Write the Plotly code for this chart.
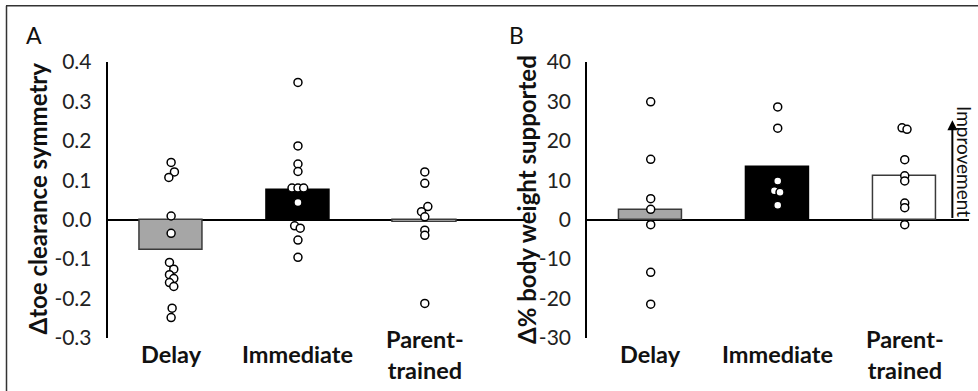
import numpy as np
import plotly.graph_objects as go

W, H = 978, 391

categories = ["Delay", "Immediate", "Parent-<br>trained"]

# Panel A: change in toe clearance symmetry
a_bar_means = [-0.077, 0.075, -0.006]
a_delay = [0.145, 0.121, 0.107, 0.009, -0.035, -0.109, -0.126, -0.140, -0.150, -0.160, -0.170, -0.225, -0.249]
a_delay_jit = [0.0, 0.026, -0.018, 0.0, 0.0, -0.013, 0.021, -0.013, 0.021, -0.013, 0.021, 0.008, 0.0]
a_immediate = [0.348, 0.187, 0.141, 0.122, 0.080, 0.080, 0.080, 0.043, -0.016, -0.022, -0.052, -0.096]
a_immediate_jit = [0.0, 0.0, 0.0, 0.0, -0.047, 0.0, 0.045, 0.0, -0.026, 0.018, 0.0, 0.0]
a_parent = [0.121, 0.092, 0.033, 0.020, 0.007, -0.027, -0.040, -0.213]
a_parent_jit = [0.0, 0.0, 0.024, -0.026, 0.0, 0.0, 0.0, 0.0]
a_tickvals = [-0.3, -0.2, -0.1, 0.0, 0.1, 0.2, 0.3, 0.4]
a_ticktext = ["-0.3", "-0.2", "-0.1", "0.0", "0.1", "0.2", "0.3", "0.4"]

# Panel B: change in % body weight supported
b_bar_means = [2.4, 13.4, 11.0]
b_delay = [29.9, 15.3, 5.3, 2.6, -1.3, -13.4, -21.5]
b_delay_jit = [0, 0, 0, 0, 0, 0, 0]
b_immediate = [28.6, 23.2, 9.8, 7.3, 6.9, 3.6]
b_immediate_jit = [0.0, 0.0, 0.0, -0.026, 0.018, 0.0]
b_parent = [23.3, 22.9, 15.2, 11.1, 9.8, 4.2, 3.0, -1.3]
b_parent_jit = [-0.021, 0.018, 0, 0, 0, 0, 0, 0]
b_tickvals = [-30, -20, -10, 0, 10, 20, 30, 40]
b_ticktext = ["-30", "-20", "-10", "0", "10", "20", "30", "40"]
improvement_arrow_top = 25.2

bar_fill = ["#a6a6a6", "#000000", "#ffffff"]
bar_line = ["#3a3a3a", "#000000", "#3a3a3a"]

FONT = "Lato"
fig = go.Figure()
idx = np.arange(len(categories))

def add_panel(xa, ya, means, groups):
    fig.add_trace(go.Bar(x=idx, y=means, width=0.5, xaxis=xa, yaxis=ya,
                         marker=dict(color=bar_fill, line=dict(color=bar_line, width=1.5)),
                         showlegend=False, hoverinfo="skip"))
    for i, (vals, jit) in enumerate(groups):
        xs = [i + j for j in jit]
        fig.add_trace(go.Scatter(x=xs, y=vals, mode="markers", xaxis=xa, yaxis=ya,
                                 marker=dict(symbol="circle", size=8, color="white",
                                             line=dict(color="black", width=1.5)),
                                 showlegend=False, hoverinfo="skip"))

add_panel("x", "y", a_bar_means, [(a_delay, a_delay_jit), (a_immediate, a_immediate_jit), (a_parent, a_parent_jit)])
add_panel("x2", "y2", b_bar_means, [(b_delay, b_delay_jit), (b_immediate, b_immediate_jit), (b_parent, b_parent_jit)])

ydom = [1 - 337.7 / H, 1 - 62 / H]
common_x = dict(showline=False, showticklabels=False, showgrid=False, zeroline=False,
                fixedrange=True, automargin=False)
common_y = dict(showline=True, linecolor="black", linewidth=2, showgrid=False, zeroline=True,
                zerolinecolor="black", zerolinewidth=2, ticks="", ticklabelstandoff=10,
                automargin=False,
                tickfont=dict(family=FONT, size=21, color="#222"), domain=ydom)

fig.update_layout(
    width=W, height=H, margin=dict(l=0, r=0, t=0, b=0, pad=0, autoexpand=False),
    paper_bgcolor="white", plot_bgcolor="white",
    font=dict(family=FONT, color="black"),
    bargap=0,
    xaxis=dict(domain=[107.7 / W, 525 / W], range=[-0.5, 2.79], **common_x),
    xaxis2=dict(domain=[587.2 / W, 969 / W], range=[-0.5, 2.506], anchor="y2", **common_x),
    yaxis=dict(range=[-0.3, 0.4], tickvals=a_tickvals, ticktext=a_ticktext, anchor="x", **common_y),
    yaxis2=dict(range=[-30, 40], tickvals=b_tickvals, ticktext=b_ticktext, anchor="x2", **common_y),
)

ann = []
# category labels
for xa in ["x", "x2"]:
    for i, c in enumerate(categories):
        ann.append(dict(x=i, y=1 - 354 / H, xref=xa, yref="paper", text="<b>%s</b>" % c,
                        showarrow=False, xanchor="center", yanchor="middle",
                        font=dict(family=FONT, size=23.5, color="#111")))
# axis titles
ann.append(dict(x=36.5 / W, y=1 - 199 / H, xref="paper", yref="paper", text="<b>\u0394toe clearance symmetry</b>",
                textangle=-90, showarrow=False, xanchor="center", yanchor="middle",
                font=dict(family=FONT, size=24, color="#111")))
ann.append(dict(x=526.5 / W, y=1 - 199.5 / H, xref="paper", yref="paper", text="<b>\u0394% body weight supported</b>",
                textangle=-90, showarrow=False, xanchor="center", yanchor="middle",
                font=dict(family=FONT, size=24, color="#111")))
# panel letters
ann.append(dict(x=34 / W, y=1 - 35 / H, xref="paper", yref="paper", text="A", showarrow=False,
                xanchor="center", yanchor="middle", font=dict(family=FONT, size=23, color="#111")))
ann.append(dict(x=516 / W, y=1 - 35 / H, xref="paper", yref="paper", text="B", showarrow=False,
                xanchor="center", yanchor="middle", font=dict(family=FONT, size=23, color="#111")))
# improvement arrow
ann.append(dict(x=2.375, y=improvement_arrow_top, xref="x2", yref="y2", ax=2.375, ay=0,
                axref="x2", ayref="y2", text="", showarrow=True, arrowhead=2, arrowsize=1,
                arrowwidth=2, arrowcolor="black"))
ann.append(dict(x=964.5 / W, y=1 - 161.5 / H, xref="paper", yref="paper", text="Improvement",
                textangle=90, showarrow=False, xanchor="center", yanchor="middle",
                font=dict(family=FONT, size=19, color="#111")))
fig.update_layout(annotations=ann)

# outer frame (top and left edges)
fig.add_shape(type="line", xref="paper", yref="paper", x0=6 / W, x1=1.02, y0=1 - 5.7 / H, y1=1 - 5.7 / H,
              line=dict(color="#333", width=1.5))
fig.add_shape(type="line", xref="paper", yref="paper", x0=6.5 / W, x1=6.5 / W, y0=1 - 5.7 / H, y1=-0.02,
              line=dict(color="#333", width=1.5))

fig.write_html("out.html", config={"displayModeBar": False},
               post_script="document.body.style.margin='0px';document.body.style.overflow='hidden';")
